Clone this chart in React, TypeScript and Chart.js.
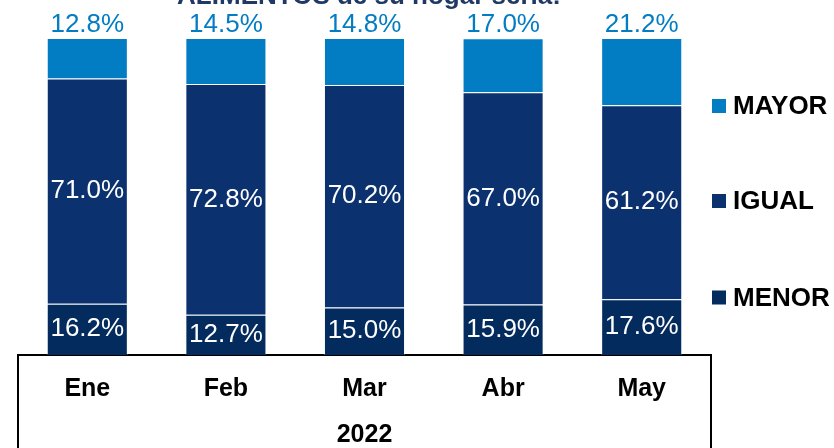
import React, { useEffect, useRef } from 'react';
import { Chart, registerables } from 'chart.js';

Chart.register(...registerables);

const titleText = 'ALIMENTOS de su hogar sería:';
const categories = ['Ene', 'Feb', 'Mar', 'Abr', 'May'];
const yearLabel = '2022';
const seriesNames = ['MENOR', 'IGUAL', 'MAYOR'];
const menorValues = [16.2, 12.7, 15.0, 15.9, 17.6];
const igualValues = [71.0, 72.8, 70.2, 67.0, 61.2];
const mayorValues = [12.8, 14.5, 14.8, 17.0, 21.2];

const COLORS: Record<string, string> = {
  MENOR: '#032B5D',
  IGUAL: '#0C316F',
  MAYOR: '#027DC3',
};
const FONT = '"Liberation Sans", Arial, sans-serif';

const decorPlugin = {
  id: 'decor',
  afterDatasetsDraw(chart: any) {
    const ctx = chart.ctx;
    ctx.save();
    ctx.font = `26px ${FONT}`;
    ctx.textAlign = 'center';
    ctx.textBaseline = 'middle';
    chart.data.datasets.forEach((ds: any, di: number) => {
      const meta = chart.getDatasetMeta(di);
      meta.data.forEach((bar: any, i: number) => {
        const v = ds.data[i];
        const p = bar.getProps(['x', 'y', 'base'], true);
        const text = v.toFixed(1) + '%';
        if (ds.label === 'MAYOR') {
          ctx.fillStyle = COLORS.MAYOR;
          ctx.fillText(text, p.x, p.y - 13);
        } else {
          ctx.fillStyle = '#FFFFFF';
          ctx.fillText(text, p.x, (p.y + p.base) / 2);
        }
      });
    });
    ctx.restore();
  },
  afterDraw(chart: any) {
    const ctx = chart.ctx;
    const { left, right, bottom } = chart.chartArea;
    ctx.save();
    ctx.strokeStyle = '#000000';
    ctx.lineWidth = 2;
    ctx.beginPath();
    ctx.moveTo(left, bottom);
    ctx.lineTo(left, chart.height);
    ctx.moveTo(right, bottom);
    ctx.lineTo(right, chart.height);
    ctx.stroke();
    ctx.fillStyle = '#1F3864';
    ctx.font = `bold 26px ${FONT}`;
    ctx.textAlign = 'center';
    ctx.textBaseline = 'alphabetic';
    ctx.fillText(titleText, 369, 4);
    const legendOrder = ['MAYOR', 'IGUAL', 'MENOR'];
    const ys = [106, 201, 297.5];
    ctx.font = `bold 26px ${FONT}`;
    ctx.textAlign = 'left';
    ctx.textBaseline = 'middle';
    legendOrder.forEach((name, k) => {
      ctx.fillStyle = COLORS[name];
      ctx.fillRect(712, ys[k] - 7, 14, 14);
      ctx.fillStyle = '#000000';
      ctx.fillText(name, 733, ys[k] + 1);
    });
    ctx.restore();
  },
};

export default function App() {
  const ref = useRef<HTMLCanvasElement>(null);
  useEffect(() => {
    if (!ref.current) return;
    const valuesByName: Record<string, number[]> = {
      MENOR: menorValues,
      IGUAL: igualValues,
      MAYOR: mayorValues,
    };
    const chart = new Chart(ref.current, {
      type: 'bar',
      data: {
        labels: categories,
        datasets: seriesNames.map((name) => ({
          label: name,
          data: valuesByName[name],
          backgroundColor: COLORS[name],
          borderColor: 'rgba(255,255,255,0.3)',
          borderWidth: 1,
          barPercentage: 0.585,
          categoryPercentage: 1,
        })),
      },
      options: {
        responsive: false,
        animation: false,
        layout: { padding: { left: 18, right: 123, top: 38, bottom: 0 } },
        plugins: {
          legend: { display: false },
          tooltip: { enabled: false },
          title: { display: false },
        },
        scales: {
          x: {
            stacked: true,
            grid: { display: false },
            border: { display: true, color: '#000000', width: 2 },
            ticks: {
              color: '#000000',
              font: { family: FONT, size: 25, weight: 'bold' },
              padding: 11,
            },
            title: {
              display: true,
              text: yearLabel,
              color: '#000000',
              font: { family: FONT, size: 25, weight: 'bold' },
              padding: { top: 0, bottom: -2 },
            },
            afterFit(scale: any) {
              scale.height = 93;
            },
          },
          y: {
            stacked: true,
            display: false,
            min: 0,
            max: 100,
          },
        },
      },
      plugins: [decorPlugin],
    });
    return () => chart.destroy();
  }, []);
  return (
    <div style={{ position: 'fixed', left: 0, top: 0, width: 834, height: 448 }}>
      <canvas ref={ref} width={834} height={448} />
    </div>
  );
}
